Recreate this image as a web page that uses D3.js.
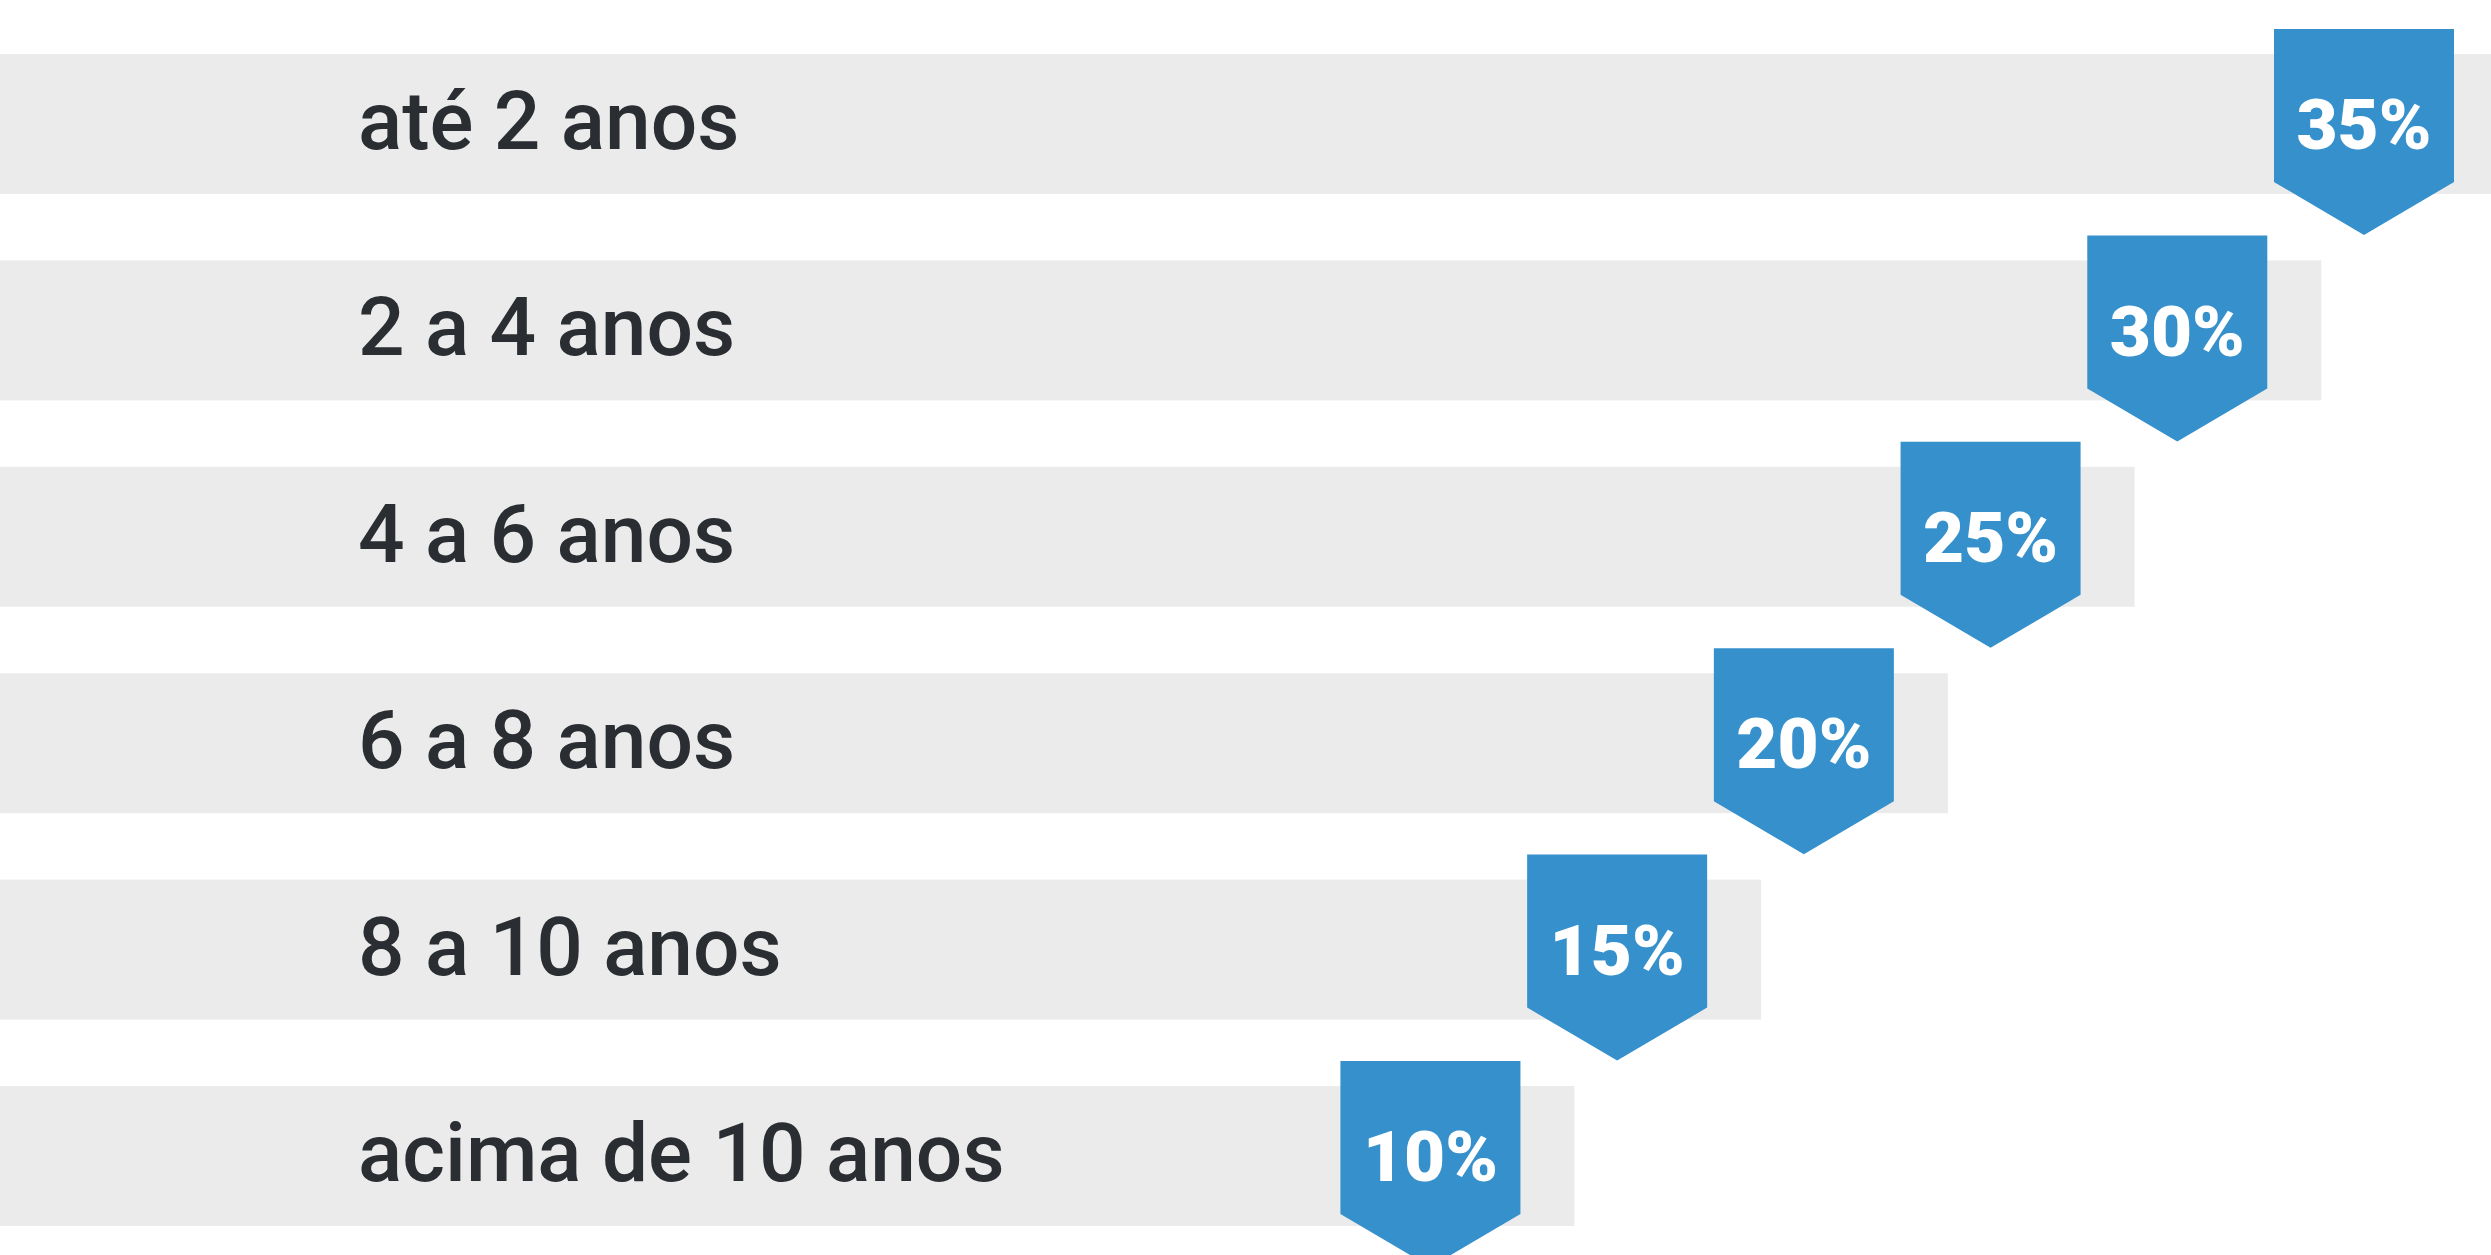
<!DOCTYPE html>
<html>
<head>
<meta charset="utf-8">
<script src="https://cdn.jsdelivr.net/npm/d3@7"></script>
<style>
    html, body { margin: 0; padding: 0; background: #fff; overflow: hidden; }
    svg { display: block; }
</style>
</head>
<body>
<div id="chart"></div>
<script>
// dados: faixas de tempo e percentuais
const categorias = ["até 2 anos", "2 a 4 anos", "4 a 6 anos", "6 a 8 anos", "8 a 10 anos", "acima de 10 anos"]
const valores = [35, 30, 25, 20, 15, 10]

let width = 2491,
    height = 1255,
    marker_w = 180,
    marker_up = 25,       // quanto o marcador sobe acima da barra
    marker_rect_h = 153,
    marker_tip = 53

let svg = d3.select("#chart")
    .append("svg")
    .attr("width", width)
    .attr("height", height)

let x = d3.scaleLinear()
    .domain([0, 35])
    .range([1201, 2508])

let y = d3.scaleBand()
    .domain(categorias)
    .range([54, 54 + 6 * 206.4 - 66.4])
    .paddingInner(66.4 / 206.4)
    .paddingOuter(0)

let rows = svg.selectAll(".row")
    .data(categorias.map((c, i) => ({ cat: c, v: valores[i] })))
    .enter()
    .append("g")
    .attr("class", "row")

// barras cinzas
rows.append("rect")
    .attr("x", 0)
    .attr("y", d => y(d.cat))
    .attr("width", d => x(d.v))
    .attr("height", y.bandwidth())
    .style("fill", "#ebebeb")

// nomes das faixas
rows.append("text")
    .attr("x", 358)
    .attr("y", d => y(d.cat) + 95)
    .text(d => d.cat)
    .style("font-family", "Roboto, 'Noto Sans', sans-serif")
    .style("font-weight", 500)
    .style("font-size", "82px")
    .style("fill", "#2a2d31")

// marcadores azuis (retângulo com ponta)
rows.append("path")
    .attr("d", function (d) {
        let cx = x(d.v) - 144,
            top = y(d.cat) - marker_up,
            l = cx - marker_w / 2,
            r = cx + marker_w / 2,
            b = top + marker_rect_h
        return "M" + l + "," + top + "H" + r + "V" + b +
            "L" + cx + "," + (b + marker_tip) + "L" + l + "," + b + "Z"
    })
    .style("fill", "#3590cc")

rows.append("text")
    .attr("x", d => x(d.v) - 144)
    .attr("y", d => y(d.cat) + y.bandwidth() / 2)
    .attr("dy", "0.355em")
    .attr("text-anchor", "middle")
    .text(d => d.v + "%")
    .style("font-family", "Roboto, 'Noto Sans', sans-serif")
    .style("font-weight", 900)
    .style("font-size", "71px")
    .style("fill", "#ffffff")
</script>
</body>
</html>
